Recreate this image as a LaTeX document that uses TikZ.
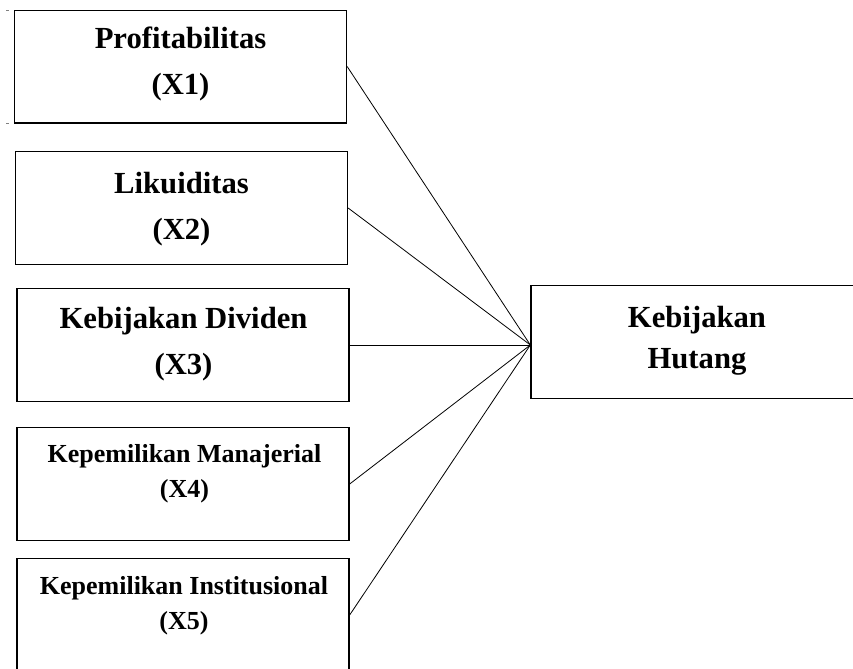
\documentclass[tikz,border=0pt]{standalone}
\usepackage{fontspec}
\setmainfont{Liberation Serif}
\tikzset{
  varbox/.style={draw, line width=1pt, rectangle, minimum width=249pt, minimum height=84.5pt, inner sep=0pt},
  bigtext/.style={font=\bfseries\fontsize{23}{34}\selectfont, align=center, inner sep=0pt},
  smalltext/.style={font=\bfseries\fontsize{19.5}{26}\selectfont, align=center, inner sep=0pt},
  link/.style={line width=0.6pt}
}
\begin{document}
\begin{tikzpicture}[x=0.75pt,y=0.75pt,yscale=-1,xscale=1]
%set diagram to the size of the page
\clip (0,0) rectangle (853,668);

%Shape: Rectangle [id:x1]
\node [varbox] (x1) at (180.5,66.5) {};
%Shape: Rectangle [id:x2]
\node [varbox] (x2) at (181.5,208) {};
%Shape: Rectangle [id:x3]
\node [varbox] (x3) at (183,345) {};
%Shape: Rectangle [id:x4]
\node [varbox] (x4) at (183,484) {};
%Shape: Rectangle [id:x5]
\node [varbox] (x5) at (183,615) {};
%Shape: Rectangle [id:y]
\node [varbox] (y) at (697,342) {};
\coordinate (yin) at ([yshift=2.25pt]y.west);

%Straight Lines
\draw [gray, line width=0.6pt] (6,10) -- (9,10) (6,123) -- (9,123);

%Straight Lines [id:x1y]
\draw [link] (x1.east) -- (yin);
%Straight Lines [id:x2y]
\draw [link] (x2.east) -- (yin);
%Straight Lines [id:x3y]
\draw [link] (x3.east) -- (yin);
%Straight Lines [id:x4y]
\draw [link] (x4.east) -- (yin);
%Straight Lines [id:x5y]
\draw [link] (x5.east) -- (yin);

% Text Node
\node [bigtext] (t1) at (180.5,64) {Profitabilitas\\(X1)};
% Text Node
\node [bigtext] (t2) at (181.5,209) {Likuiditas\\(X2)};
% Text Node
\node [bigtext] (t3) at (183.5,344) {Kebijakan Dividen\\(X3)};
% Text Node
\node [smalltext] (t4) at (184.5,473.5) {Kepemilikan Manajerial\\(X4)};
% Text Node
\node [smalltext] (t5) at (184,605.5) {Kepemilikan Institusional\\(X5)};
% Text Node
\node [bigtext, font=\bfseries\fontsize{23}{31}\selectfont] (ty) at (697,341) {Kebijakan\\Hutang};

\end{tikzpicture}
\end{document}
